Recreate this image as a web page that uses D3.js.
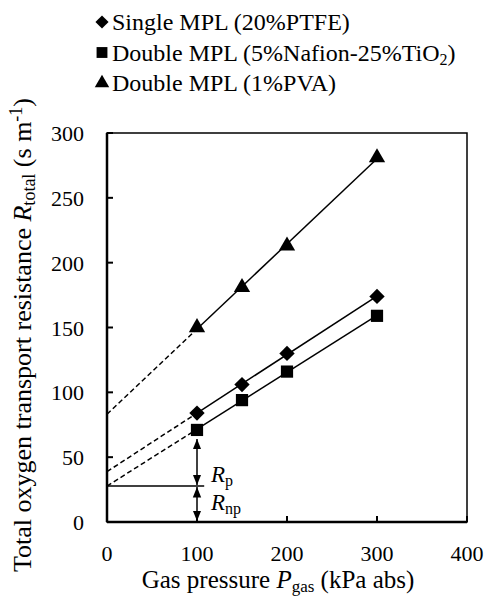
<!DOCTYPE html>
<html>
<head>
<meta charset="utf-8">
<script src="https://cdn.jsdelivr.net/npm/d3@7"></script>
<style>
  body { margin: 0; background: #fff; }
</style>
</head>
<body>
<script>
// data
var pressure = [100, 150, 200, 300];
var singlePTFE = [84, 106, 130, 174];
var doubleNafion = [71, 94, 116, 159];
var doublePVA = [150, 181, 213, 281];
var seriesNames = ["Single MPL (20%PTFE)", "Double MPL (5%Nafion-25%TiO", "Double MPL (1%PVA)"];
var xTicks = [0, 100, 200, 300, 400];
var yTicks = [0, 50, 100, 150, 200, 250, 300];

var W = 485, H = 598;
var FONT = "Liberation Serif";
var x = d3.scaleLinear().domain([0, 400]).range([107, 467]);
var y = d3.scaleLinear().domain([0, 300]).range([522, 133]);

var svg = d3.select("body").append("svg")
    .attr("width", W)
    .attr("height", H);

var series = [
  {name: seriesNames[0], vals: singlePTFE, sym: d3.symbolDiamond2, size: 150},
  {name: seriesNames[1], vals: doubleNafion, sym: d3.symbolSquare2, size: 190},
  {name: seriesNames[2], vals: doublePVA, sym: d3.symbolTriangle2, size: 190}
];

// least squares fit for each series
function fit(vals) {
  var mx = d3.mean(pressure), my = d3.mean(vals);
  var sxy = d3.sum(pressure, (p, i) => (p - mx) * (vals[i] - my));
  var sxx = d3.sum(pressure, p => (p - mx) * (p - mx));
  var b = sxy / sxx;
  return {a: my - b * mx, b: b};
}
series.forEach(s => s.fit = fit(s.vals));

// frame
svg.append("rect")
    .attr("x", x(0)).attr("y", y(300))
    .attr("width", x(400) - x(0)).attr("height", y(0) - y(300))
    .attr("fill", "none").attr("stroke", "#000").attr("stroke-width", 1.5);

svg.append("line")
    .attr("x1", x(0)).attr("x2", x(0)).attr("y1", y(300)).attr("y2", y(0))
    .attr("stroke", "#000").attr("stroke-width", 2.5);
svg.append("line")
    .attr("x1", x(0)).attr("x2", x(400)).attr("y1", y(0)).attr("y2", y(0))
    .attr("stroke", "#000").attr("stroke-width", 2.5);

// ticks (inward)
yTicks.forEach(d => {
  svg.append("line")
      .attr("x1", x(0)).attr("x2", x(0) + 6)
      .attr("y1", y(d)).attr("y2", y(d))
      .attr("stroke", "#000").attr("stroke-width", 2);
  svg.append("text")
      .attr("x", 84).attr("y", y(d) + 8)
      .attr("text-anchor", "end").attr("font-size", 22)
      .attr("font-family", FONT)
      .text(String(d));
});
xTicks.forEach(d => {
  svg.append("line")
      .attr("x1", x(d)).attr("x2", x(d))
      .attr("y1", y(0)).attr("y2", y(0) - 6)
      .attr("stroke", "#000").attr("stroke-width", 2);
  svg.append("text")
      .attr("x", x(d)).attr("y", 561)
      .attr("text-anchor", "middle").attr("font-size", 22)
      .attr("font-family", FONT)
      .text(String(d));
});

// fitted lines: dashed extrapolation to 0, solid over the data
series.forEach(s => {
  svg.append("line")
      .attr("x1", x(0)).attr("y1", y(s.fit.a))
      .attr("x2", x(100)).attr("y2", y(s.fit.a + s.fit.b * 100))
      .attr("stroke", "#000").attr("stroke-width", 1.5)
      .attr("stroke-dasharray", "5,3");
  svg.append("line")
      .attr("x1", x(100)).attr("y1", y(s.fit.a + s.fit.b * 100))
      .attr("x2", x(300)).attr("y2", y(s.fit.a + s.fit.b * 300))
      .attr("stroke", "#000").attr("stroke-width", 1.5);
});

// markers
series.forEach(s => {
  s.vals.forEach((d, i) => {
    svg.append("path")
        .attr("d", d3.symbol().type(s.sym).size(s.size))
        .attr("transform", "translate(" + x(pressure[i]) + "," + y(d) + ")")
        .attr("fill", "#000");
  });
});

// Rp / Rnp annotation
var rnp = series[1].fit.a;
svg.append("defs").append("marker")
    .attr("id", "ah").attr("viewBox", "0 0 10 10")
    .attr("refX", 10).attr("refY", 5)
    .attr("markerWidth", 7).attr("markerHeight", 7)
    .attr("orient", "auto-start-reverse")
  .append("path").attr("d", "M0,1 L10,5 L0,9 Z").attr("fill", "#000");

svg.append("line")
    .attr("x1", x(0)).attr("x2", x(108))
    .attr("y1", y(rnp)).attr("y2", y(rnp))
    .attr("stroke", "#000").attr("stroke-width", 1.5);
svg.append("line")
    .attr("x1", x(100)).attr("x2", x(100))
    .attr("y1", y(doubleNafion[0]) + 9).attr("y2", y(rnp) - 1)
    .attr("stroke", "#000").attr("stroke-width", 1.5)
    .attr("marker-start", "url(#ah)").attr("marker-end", "url(#ah)");
svg.append("line")
    .attr("x1", x(100)).attr("x2", x(100))
    .attr("y1", y(rnp) + 1).attr("y2", y(0) - 1)
    .attr("stroke", "#000").attr("stroke-width", 1.5)
    .attr("marker-start", "url(#ah)").attr("marker-end", "url(#ah)");

// text with plain / italic / sub / sup parts
function rich(parts, size) {
  var t = svg.append("text").attr("font-family", FONT).attr("font-size", size);
  var shift = 0;
  parts.forEach(p => {
    var sp = t.append("tspan").attr("font-family", FONT).text(p.t);
    var want = p.sub ? 4 : p.sup ? -9 : 0;
    if (want !== shift) { sp.attr("dy", want - shift); shift = want; }
    if (p.sub || p.sup) sp.attr("font-size", Math.round(size * 0.68));
    if (p.it) sp.attr("font-style", "italic");
  });
  return t;
}

rich([{t: "R", it: true}, {t: "p", sub: true}], 23).attr("x", 211).attr("y", 482);
rich([{t: "R", it: true}, {t: "np", sub: true}], 23).attr("x", 211).attr("y", 510);

// legend
series.forEach((s, i) => {
  var ly = 22 + i * 30.5;
  svg.append("path")
      .attr("d", d3.symbol().type(s.sym).size(i == 0 ? 110 : 150))
      .attr("transform", "translate(102," + ly + ")")
      .attr("fill", "#000");
  var parts = i == 1 ? [{t: s.name}, {t: "2", sub: true}, {t: ")"}] : [{t: s.name}];
  rich(parts, 24).attr("x", 112).attr("y", ly + 8);
});

// axis titles
rich([
  {t: "Total oxygen transport resistance "}, {t: "R", it: true}, {t: "total", sub: true},
  {t: " (s m"}, {t: "-1", sup: true}, {t: ")"}
], 26)
    .attr("transform", "translate(31,335) rotate(-90)")
    .attr("text-anchor", "middle");

rich([
  {t: "Gas pressure "}, {t: "P", it: true}, {t: "gas", sub: true}, {t: " (kPa abs)"}
], 25)
    .attr("x", 278).attr("y", 588)
    .attr("text-anchor", "middle");
</script>
</body>
</html>
